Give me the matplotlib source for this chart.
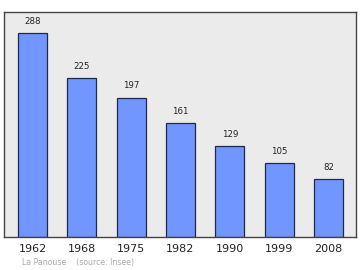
import matplotlib
matplotlib.use("Agg")
import matplotlib.pyplot as plt

years = ["1962", "1968", "1975", "1982", "1990", "1999", "2008"]
population = [288, 225, 197, 161, 129, 105, 82]
place = "La Panouse"
source = "(source: Insee)"

fig = plt.figure(figsize=(3.6, 2.7), dpi=100)
ax = fig.add_axes([0.011, 0.122, 0.978, 0.834])
ax.set_facecolor("#ebebeb")

positions = range(len(years))
ax.bar(positions, population, width=0.59, color="#7196ff",
       edgecolor="#1f2a4a", linewidth=0.9, zorder=2)

for x, v in zip(positions, population):
    ax.text(x, v + 10, str(v), ha="center", va="bottom", fontsize=6.2, color="#222222")

ax.set_xlim(-0.58, 6.56)
ax.set_ylim(0, 318)
ax.set_xticks(list(positions))
ax.set_xticklabels(years, fontsize=8, color="#222222")
ax.tick_params(axis="x", length=0, pad=5)
ax.set_yticks([])
for s in ax.spines.values():
    s.set_color("#444444")
    s.set_linewidth(1.0)

fig.text(22 / 360, 1 - 263 / 270, place + "    " + source, fontsize=5.6,
         color="#aaaaaa", va="center")

fig.savefig("out.png", dpi=100)
